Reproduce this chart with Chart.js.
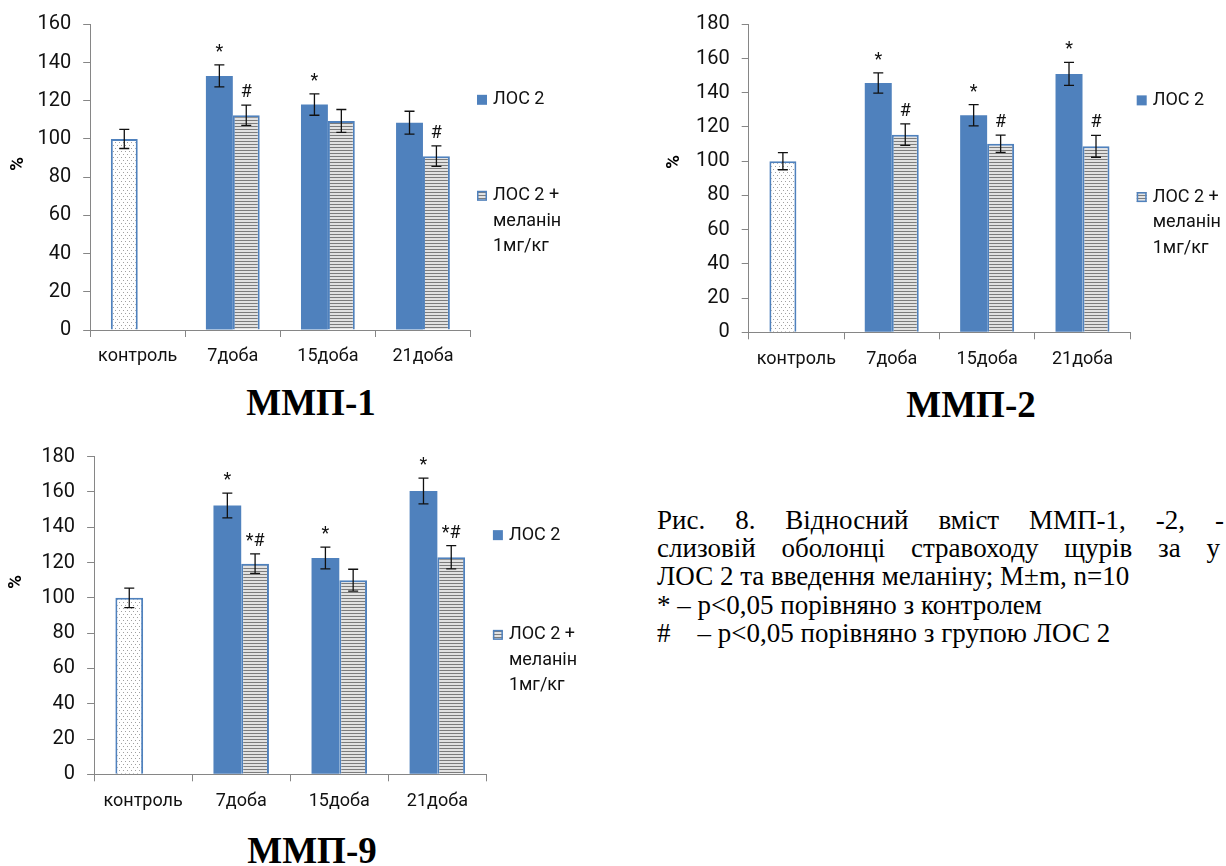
<!DOCTYPE html>
<html>
<head>
<meta charset="utf-8">
<script src="https://cdn.jsdelivr.net/npm/chart.js@4.4.1/dist/chart.umd.min.js"></script>
<style>
  html, body { margin: 0; padding: 0; background: #fff; overflow: hidden; }
  body { width: 1226px; height: 866px; position: relative; }
  canvas { position: absolute; }
  .title { position: absolute; width: 300px; text-align: center; font: bold 37px "Liberation Serif", serif; line-height: 37px; color: #000; }
  .caption { position: absolute; left: 657px; top: 506px; font: 27px "Liberation Serif", serif; line-height: 28.2px; color: #000; white-space: nowrap; }
  .caption .just { text-align: justify; text-align-last: justify; white-space: normal; }
</style>
</head>
<body>
<canvas id="mmp1" width="600" height="380" style="left:0;top:0"></canvas>
<canvas id="mmp2" width="606" height="380" style="left:620px;top:0"></canvas>
<canvas id="mmp9" width="620" height="380" style="left:0;top:430px"></canvas>

<div class="title" style="left:161px;top:384px">ММП-1</div>
<div class="title" style="left:821px;top:386px">ММП-2</div>
<div class="title" style="left:162px;top:832px">ММП-9</div>

<div class="caption">
  <div class="just" style="width:567px">Рис. 8. Відносний вміст ММП-1, -2, -</div>
  <div class="just" style="width:563px">слизовій оболонці стравоходу щурів за у</div>
  <div>ЛОС 2 та введення меланіну; M±m, n=10</div>
  <div>* – p&lt;0,05 порівняно з контролем</div>
  <div>#&nbsp;&nbsp;&nbsp; – p&lt;0,05 порівняно з групою ЛОС 2</div>
</div>

<script>
// categories (first slot is the control group, drawn in the ЛОС 2 position)
const categories = ['контроль', '7доба', '15доба', '21доба'];
const losLabel = 'ЛОС 2';
const melLabel = ['ЛОС 2 +', 'меланін', '1мг/кг'];

// ММП-1, % of control
const mmp1Los = [100, 133, 118, 108.5];
const mmp1LosErr = [5, 5.8, 5.6, 6];
const mmp1LosMarks = ['', '*', '*', ''];
const mmp1Mel = [null, 112.4, 109.4, 91];
const mmp1MelErr = [0, 5.3, 6, 5.4];
const mmp1MelMarks = ['', '#', '', '#'];
const mmp1Max = 160;

// ММП-2
const mmp2Los = [100, 145.7, 126.8, 151];
const mmp2LosErr = [5, 5.9, 6.2, 6.7];
const mmp2LosMarks = ['', '*', '*', '*'];
const mmp2Mel = [null, 115.5, 110.2, 108.7];
const mmp2MelErr = [0, 6.3, 5, 6.4];
const mmp2MelMarks = ['', '#', '#', '#'];
const mmp2Max = 180;

// ММП-9
const mmp9Los = [100, 152.3, 122.6, 160.6];
const mmp9LosErr = [5.5, 7, 6.2, 7.3];
const mmp9LosMarks = ['', '*', '*', '*'];
const mmp9Mel = [null, 119.4, 110, 123];
const mmp9MelErr = [0, 5.5, 6.2, 6.6];
const mmp9MelMarks = ['', '*#', '', '*#'];
const mmp9Max = 180;

const tickStep = 20;

const BLUE = '#4F81BD';
const AXIS = '#868686';
const TEXT = '#111111';
const FONT = 'Roboto';

Chart.defaults.font.family = FONT;
Chart.defaults.font.size = 18;
Chart.defaults.color = TEXT;

/**
 * Small repeating fills used by the Excel-like bars
 */
function makeStripes() {
    const c = document.createElement('canvas');
    c.width = 4; c.height = 3;
    const g = c.getContext('2d');
    g.fillStyle = '#e2e2e2';
    g.fillRect(0, 0, 4, 3);
    g.fillStyle = '#7c7c7c';
    g.fillRect(0, 0, 4, 1);
    return g.createPattern(c, 'repeat');
}

function makeDots() {
    const c = document.createElement('canvas');
    c.width = 4; c.height = 6;
    const g = c.getContext('2d');
    g.fillStyle = '#ffffff';
    g.fillRect(0, 0, 4, 6);
    g.fillStyle = '#a0a0a0';
    g.fillRect(1, 1, 1, 1);
    g.fillRect(3, 4, 1, 1);
    return g.createPattern(c, 'repeat');
}

const stripes = makeStripes();
const dots = makeDots();

/**
 * Error bars, significance marks, the "%" label and the legend
 */
const extrasPlugin = {
    id: 'extras',
    afterDatasetsDraw(chart, args, opts) {
        const ctx = chart.ctx;
        const y = chart.scales.y;
        const area = chart.chartArea;
        ctx.save();

        chart.data.datasets.forEach((ds, i) => {
            const meta = chart.getDatasetMeta(i);
            meta.data.forEach((bar, j) => {
                const v = ds.data[j];
                if (v === null || v === undefined) return;
                const e = ds.errors[j];
                const yTop = y.getPixelForValue(v + e);
                const yBot = y.getPixelForValue(v - e);
                ctx.strokeStyle = '#111';
                ctx.lineWidth = 1.3;
                ctx.beginPath();
                ctx.moveTo(bar.x, yTop); ctx.lineTo(bar.x, yBot);
                ctx.moveTo(bar.x - 5, yTop); ctx.lineTo(bar.x + 5, yTop);
                ctx.moveTo(bar.x - 5, yBot); ctx.lineTo(bar.x + 5, yBot);
                ctx.stroke();

                const mark = ds.marks[j];
                if (mark) {
                    ctx.fillStyle = TEXT;
                    ctx.font = '18px ' + FONT;
                    ctx.textAlign = 'center';
                    ctx.textBaseline = 'alphabetic';
                    ctx.fillText(mark, bar.x, yTop - 8);
                }
            });
        });

        // rotated axis label
        ctx.fillStyle = '#000';
        ctx.font = 'bold 19px ' + FONT;
        ctx.textAlign = 'center';
        ctx.textBaseline = 'middle';
        ctx.translate(opts.yLabelX, opts.yLabelY);
        ctx.rotate(-Math.PI / 2);
        ctx.fillText('%', 0, 0);
        ctx.setTransform(1, 0, 0, 1, 0, 0);

        // legend on the right
        const h = area.bottom - area.top;
        const sx = area.right + 6.5;
        const tx = sx + 16;
        ctx.font = '18px ' + FONT;
        ctx.textAlign = 'left';
        ctx.textBaseline = 'middle';

        const y1 = area.top + h * 0.247;
        ctx.fillStyle = BLUE;
        ctx.fillRect(sx, y1 - 5, 10, 10);
        ctx.fillStyle = TEXT;
        ctx.fillText(losLabel, tx, y1);

        const y2 = area.top + h * 0.561;
        ctx.fillStyle = stripes;
        ctx.fillRect(sx, y2 - 5, 10, 10);
        ctx.strokeStyle = BLUE;
        ctx.lineWidth = 1.5;
        ctx.strokeRect(sx + 0.75, y2 - 4.25, 8.5, 8.5);
        ctx.fillStyle = TEXT;
        melLabel.forEach((line, k) => ctx.fillText(line, tx, y2 + k * 25.5));

        ctx.restore();
    }
};

/**
 * Build one grouped bar chart with a fixed plot rectangle
 */
function buildChart(id, los, losErr, losMarks, mel, melErr, melMarks, yMax, box) {
    const canvas = document.getElementById(id);
    const H = canvas.height;
    return new Chart(canvas, {
        type: 'bar',
        data: {
            labels: categories,
            datasets: [{
                label: losLabel,
                data: los,
                errors: losErr,
                marks: losMarks,
                backgroundColor: los.map((v, i) => i === 0 ? dots : BLUE),
                borderColor: BLUE,
                borderWidth: los.map((v, i) => i === 0 ? 2 : 0),
                categoryPercentage: 0.566,
                barPercentage: 1.0
            }, {
                label: melLabel.join(' '),
                data: mel,
                errors: melErr,
                marks: melMarks,
                backgroundColor: stripes,
                borderColor: BLUE,
                borderWidth: 2,
                categoryPercentage: 0.566,
                barPercentage: 1.0
            }]
        },
        options: {
            responsive: false,
            animation: false,
            layout: {
                padding: { left: box.left - 90.2, top: box.top, right: canvas.width - box.right, bottom: 0 }
            },
            plugins: {
                legend: { display: false },
                tooltip: { enabled: false },
                extras: { yLabelX: box.labelX, yLabelY: box.labelY }
            },
            scales: {
                x: {
                    offset: true,
                    border: { color: AXIS, width: 1 },
                    grid: { display: true, offset: true, drawOnChartArea: false, drawTicks: true, tickLength: 7, color: AXIS },
                    ticks: { padding: 9, color: TEXT, maxRotation: 0, font: { family: FONT, size: 18 } },
                    afterFit(scale) {
                        scale.height = H - box.bottom;
                        scale.paddingLeft = 0;
                        scale.paddingRight = 0;
                    }
                },
                y: {
                    min: 0,
                    max: yMax,
                    border: { color: AXIS, width: 1 },
                    grid: { display: true, drawOnChartArea: false, drawTicks: true, tickLength: 7, color: AXIS },
                    ticks: { stepSize: tickStep, padding: 12, color: TEXT, font: { family: FONT, size: 20 } },
                    afterFit(scale) {
                        scale.width = 90.2;
                        scale.paddingTop = 0;
                        scale.paddingBottom = 0;
                    }
                }
            }
        },
        plugins: [extrasPlugin]
    });
}

buildChart('mmp1', mmp1Los, mmp1LosErr, mmp1LosMarks, mmp1Mel, mmp1MelErr, mmp1MelMarks, mmp1Max,
    { left: 90.2, right: 470.5, top: 24.3, bottom: 330, labelX: 17.8, labelY: 164 });
buildChart('mmp2', mmp2Los, mmp2LosErr, mmp2LosMarks, mmp2Mel, mmp2MelErr, mmp2MelMarks, mmp2Max,
    { left: 128.7, right: 510.2, top: 24.3, bottom: 332.3, labelX: 54, labelY: 162 });
buildChart('mmp9', mmp9Los, mmp9LosErr, mmp9LosMarks, mmp9Mel, mmp9MelErr, mmp9MelMarks, mmp9Max,
    { left: 94.1, right: 486.4, top: 26.7, bottom: 344.3, labelX: 16.6, labelY: 152 });
</script>
</body>
</html>
